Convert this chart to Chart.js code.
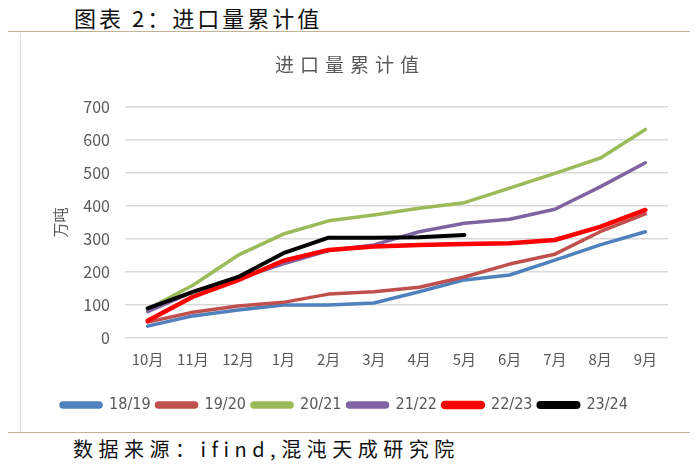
<!DOCTYPE html>
<html>
<head>
<meta charset="utf-8">
<script src="https://cdn.jsdelivr.net/npm/chart.js@4.4.1/dist/chart.umd.min.js"></script>
<style>
  html, body { margin: 0; padding: 0; background: #ffffff; }
  body { width: 700px; height: 468px; position: relative; overflow: hidden; font-family: "Noto Sans CJK SC", sans-serif; }
  #head { position: absolute; left: 74px; top: 1px; font-size: 22px; color: #111; letter-spacing: 3px; white-space: nowrap; }
  #foot { position: absolute; left: 73px; top: 434px; font-size: 20px; color: #111; letter-spacing: 5.5px; white-space: nowrap; }
  #ctitle { position: absolute; left: 0; width: 700px; top: 50px; text-align: center; font-size: 19px; color: #595959; letter-spacing: 6px; white-space: nowrap; }
  #lineTop { position: absolute; left: 8px; top: 31px; width: 682px; height: 0; border-top: 1.5px solid #c2b396; }
  #lineBot { position: absolute; left: 8px; top: 432px; width: 682px; height: 0; border-top: 1.5px solid #c2b396; }
  #lineLeft { position: absolute; left: 20px; top: 33px; width: 0; height: 399px; border-left: 1px solid #d9d9d9; }
  #wrap { position: absolute; left: 21px; top: 33px; width: 669px; height: 398px; }
</style>
</head>
<body>
<div id="head">图表 2：进口量累计值</div>
<div id="lineTop"></div>
<div id="lineLeft"></div>
<div id="wrap"><canvas id="c" width="669" height="398"></canvas></div>
<div id="ctitle">进口量累计值</div>
<div id="lineBot"></div>
<div id="foot">数据来源：ifind,混沌天成研究院</div>
<script>
const yAxisTitle = '万吨';
const months = ['10月','11月','12月','1月','2月','3月','4月','5月','6月','7月','8月','9月'];
const seriesNames = ['18/19','19/20','20/21','21/22','22/23','23/24'];
const s1819 = [36, 67, 85, 100, 100, 106, 140, 176, 191, 236, 282, 322];
const s1920 = [48, 78, 97, 108, 133, 140, 154, 185, 224, 254, 322, 376];
const s2021 = [88, 160, 251, 315, 355, 373, 393, 410, 454, 499, 545, 632];
const s2122 = [80, 140, 180, 225, 265, 282, 322, 348, 360, 390, 458, 531];
const s2223 = [52, 125, 175, 234, 267, 277, 282, 285, 287, 297, 337, 388];
const s2324 = [90, 140, 185, 257, 304, 304, 305, 312, null, null, null, null];
const yTicks = [0, 100, 200, 300, 400, 500, 600, 700];

const colors = ['#4f81bd', '#c0504d', '#9bbb59', '#8064a2', '#ff0000', '#000000'];
const widths = [3.5, 3.5, 3.5, 3.5, 4.5, 4];
const values = [s1819, s1920, s2021, s2122, s2223, s2324];

const datasets = seriesNames.map((n, i) => ({
  label: n,
  data: values[i],
  borderColor: colors[i],
  backgroundColor: colors[i],
  borderWidth: widths[i],
  pointRadius: 0,
  pointHoverRadius: 0,
  tension: 0,
  fill: false,
  spanGaps: false,
  borderJoinStyle: 'round',
  borderCapStyle: 'round',
  order: seriesNames.length - i
}));

new Chart(document.getElementById('c'), {
  type: 'line',
  data: { labels: months, datasets },
  options: {
    responsive: false,
    animation: false,
    devicePixelRatio: 1,
    layout: { padding: { left: 0, right: 22, top: 74, bottom: 8 } },
    plugins: {
      title: { display: false },
      legend: {
        position: 'bottom',
        labels: {
          boxWidth: 40,
          boxHeight: 4,
          padding: 6,
          color: '#595959',
          font: { family: '"Liberation Sans Narrow", "DejaVu Sans Condensed", "Liberation Sans", sans-serif', size: 16 },
          useBorderRadius: true,
          borderRadius: 2,
          sort: (a, b) => a.datasetIndex - b.datasetIndex
        }
      },
      tooltip: { enabled: false }
    },
    scales: {
      x: {
        offset: true,
        grid: { display: false, drawTicks: false },
        border: { display: false },
        ticks: {
          color: '#595959',
          padding: 12,
          maxRotation: 0,
          autoSkip: false,
          font: { family: '"Noto Sans CJK SC", sans-serif', size: 15 }
        },
        afterFit: (s) => { s.height = 53; }
      },
      y: {
        min: 0,
        max: 700,
        afterBuildTicks: (s) => { s.ticks = yTicks.map(v => ({ value: v })); },
        grid: { color: '#d9d9d9', lineWidth: 1.5, drawTicks: false },
        border: { display: false },
        ticks: {
          color: '#595959',
          padding: 15,
          font: { family: '"Noto Sans CJK SC", sans-serif', size: 16 }
        },
        title: {
          display: true,
          text: yAxisTitle,
          color: '#595959',
          padding: { top: 30, bottom: 0 },
          font: { family: '"Noto Sans CJK SC", sans-serif', size: 15 }
        },
        afterFit: (s) => { s.width = 104; }
      }
    }
  }
});
</script>
</body>
</html>
